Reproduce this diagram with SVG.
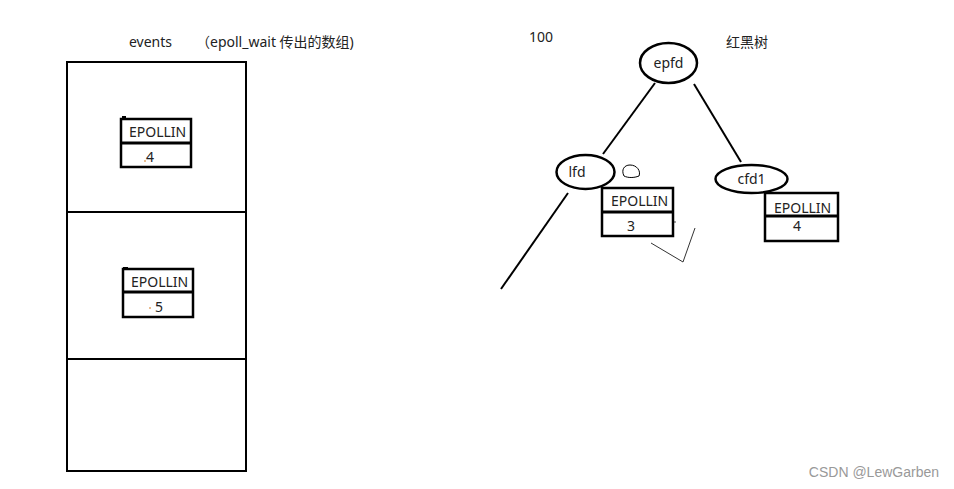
<svg xmlns="http://www.w3.org/2000/svg" width="954" height="489" viewBox="0 0 954 489">
<style>
.t{font-family:"Noto Sans","Noto Sans CJK SC",sans-serif;font-size:14px;fill:#222}
.bx{fill:#fff;stroke:#000;stroke-width:2.5}
.dv{stroke:#000;stroke-width:3}
.ln{stroke:#000;stroke-width:2;fill:none}
.el{fill:#fff;stroke:#000;stroke-width:2.5}
</style>
<rect width="954" height="489" fill="#fff"/>
<g id="labels">
<text class="t" x="129" y="47">events</text>
<text class="t" x="196" y="47">（epoll_wait 传出的数组)</text>
<text class="t" x="529" y="42">100</text>
<text class="t" x="726" y="47">红黑树</text>
<text x="939" y="477" text-anchor="end" style="font-family:'Liberation Sans',sans-serif;font-size:14px;fill:#999">CSDN @LewGarben</text>
</g>
<g id="events-array">
<rect x="67" y="62" width="179" height="409" fill="none" stroke="#000" stroke-width="2"/>
<line x1="67" y1="212" x2="246" y2="212" class="ln"/>
<line x1="67" y1="359" x2="246" y2="359" class="ln"/>
</g>
<g id="ev1">
<rect class="bx" x="121" y="119" width="70" height="48"/>
<line class="dv" x1="121" y1="143" x2="191" y2="143"/>
<line class="ln" x1="122" y1="117" x2="126" y2="117"/>
<text class="t" x="129" y="137">EPOLLIN</text>
<text class="t" x="146" y="162">4</text>
<circle cx="145" cy="161" r="0.8" fill="#c60"/>
</g>
<g id="ev2">
<rect class="bx" x="123" y="269" width="70" height="48"/>
<line class="dv" x1="123" y1="292" x2="193" y2="292"/>
<line class="ln" x1="123" y1="268" x2="128" y2="268"/>
<text class="t" x="131" y="287">EPOLLIN</text>
<text class="t" x="155" y="312">5</text>
<circle cx="150" cy="308" r="0.8" fill="#c60"/>
</g>
<g id="connectors">
<line class="ln" x1="655" y1="83" x2="603" y2="154"/>
<line class="ln" x1="694" y1="84" x2="741" y2="162"/>
<line class="ln" x1="568" y1="193" x2="501" y2="289"/>
<path d="M651 243 L683 262 L695 228" fill="none" stroke="#333" stroke-width="1"/>
<circle cx="675" cy="222" r="0.8" fill="#333"/>
<path d="M624 176 C621 170 624 165 630 165 C637 165 641 171 639 176 C634 178 628 178 624 176 Z" fill="none" stroke="#000" stroke-width="1"/>
</g>
<g id="epfd">
<ellipse class="el" cx="668.5" cy="63" rx="28.5" ry="20"/>
<text class="t" x="668.5" y="68" text-anchor="middle">epfd</text>
</g>
<g id="lfd">
<ellipse class="el" cx="585.5" cy="172" rx="29" ry="17"/>
<text class="t" x="577" y="177" text-anchor="middle">lfd</text>
</g>
<g id="lfd-event">
<rect class="bx" x="602" y="188" width="71" height="48"/>
<line class="dv" x1="602" y1="212" x2="673" y2="212"/>
<text class="t" x="611" y="206">EPOLLIN</text>
<text class="t" x="627" y="231">3</text>
</g>
<g id="cfd1">
<ellipse class="el" cx="751.5" cy="179" rx="36" ry="14"/>
<text class="t" x="751.5" y="184" text-anchor="middle">cfd1</text>
</g>
<g id="cfd1-event">
<rect class="bx" x="765" y="193" width="73" height="48"/>
<line class="dv" x1="765" y1="216" x2="838" y2="216"/>
<text class="t" x="774" y="213">EPOLLIN</text>
<text class="t" x="793" y="231">4</text>
</g>
</svg>
